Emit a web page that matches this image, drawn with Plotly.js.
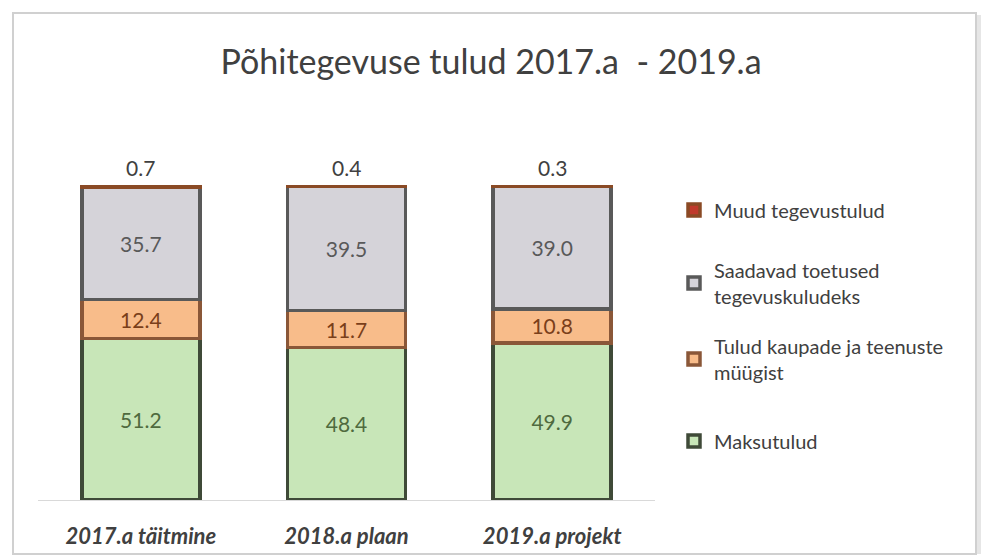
<!DOCTYPE html>
<html>
<head>
<meta charset="utf-8">
<script src="https://cdn.plot.ly/plotly-3.0.1.min.js"></script>
<style>
  html, body { margin: 0; padding: 0; background: #ffffff; }
  #chart { width: 982px; height: 557px; }
</style>
</head>
<body>
<div id="chart"></div>
<script>
// ---- data ----
const categories = ["2017.a täitmine", "2018.a plaan", "2019.a projekt"];
const maksutulud = [51.2, 48.4, 49.9];
const tuludKaupadest = [12.4, 11.7, 10.8];
const saadavadToetused = [35.7, 39.5, 39.0];
const muudTegevustulud = [0.7, 0.4, 0.3];
const seriesNames = [
  "Maksutulud",
  "Tulud kaupade ja teenuste<br>müügist",
  "Saadavad toetused<br>tegevuskuludeks",
  "Muud tegevustulud"
];
const titleText = "Põhitegevuse tulud 2017.a  - 2019.a";

// ---- layout helpers (pixel -> paper) ----
const W = 982, H = 557;
const plotL = 38, plotR = 655, plotT = 185, plotB = 500;
const px = x => (x - plotL) / (plotR - plotL);
const py = y => (plotB - y) / (plotB - plotT);

const FONT = "Lato, 'Open Sans', sans-serif";
const fmt = v => v.toFixed(1);

function barTrace(name, values, fill, line, textColor, legendId, textpos) {
  return {
    type: "bar",
    name: name,
    x: categories,
    y: values,
    text: values.map(fmt),
    textposition: textpos,
    insidetextanchor: "middle",
    textangle: 0,
    cliponaxis: false,
    textfont: { family: FONT, size: 21, color: textColor },
    insidetextfont: { family: FONT, size: 21, color: textColor },
    constraintext: "none",
    marker: { color: fill, line: { color: line, width: 3.5 } },
    legend: legendId,
    hoverinfo: "skip"
  };
}

const traces = [
  barTrace(seriesNames[0], maksutulud, "#c8e6b8", "#3f4a38", "#4f6a3e", "legend4", "inside"),
  barTrace(seriesNames[1], tuludKaupadest, "#f8bc8a", "#8a5738", "#7a3f1a", "legend3", "inside"),
  barTrace(seriesNames[2], saadavadToetused, "#d5d3d9", "#595959", "#595959", "legend2", "inside"),
  barTrace(seriesNames[3], muudTegevustulud, "#c0392b", "#8a4a25", "#404040", "legend", "none")
];

// labels for the thin top segment, placed above each stack
const stackTotal = i => Math.round((maksutulud[i] + tuludKaupadest[i] + saadavadToetused[i] + muudTegevustulud[i]) * 10) / 10;
const topAnnotations = categories.map((c, i) => ({
  x: c, y: stackTotal(i),
  xref: "x", yref: "y",
  text: fmt(muudTegevustulud[i]),
  showarrow: false, yanchor: "bottom", yshift: 3,
  font: { family: FONT, size: 21, color: "#404040" }
}));

function legendAt(yPx) {
  return {
    x: px(674), xanchor: "left",
    y: py(yPx), yanchor: "middle",
    bgcolor: "rgba(0,0,0,0)",
    font: { family: FONT, size: 20, color: "#404040" },
    itemwidth: 30
  };
}

const layout = {
  width: W, height: H,
  paper_bgcolor: "#ffffff",
  plot_bgcolor: "#ffffff",
  margin: { l: plotL, r: W - plotR, t: plotT, b: H - plotB, pad: 0 },
  barmode: "stack",
  bargap: 0.426,
  showlegend: true,
  title: {
    text: titleText,
    font: { family: FONT, size: 34, color: "#404040" },
    x: 0.5, xref: "container", xanchor: "center",
    y: 1 - 62 / H, yref: "container", yanchor: "middle"
  },
  xaxis: {
    type: "category",
    range: [-0.5, 2.5],
    showline: true, linecolor: "#d9d9d9", linewidth: 1,
    showgrid: false, zeroline: false,
    ticks: "",
    ticklabelstandoff: 17,
    tickfont: { family: FONT, size: 22, color: "#404040", weight: "bold", style: "italic" }
  },
  yaxis: {
    range: [0, 100.01],
    visible: false,
    showgrid: false, zeroline: false
  },
  legend: legendAt(210),
  legend2: legendAt(283),
  legend3: legendAt(359),
  legend4: legendAt(441),
  annotations: topAnnotations,
  shapes: [
    {
      type: "rect", xref: "paper", yref: "paper", layer: "below",
      x0: px(13), x1: px(976), y0: py(554), y1: py(13),
      line: { color: "#d0d0d0", width: 2 }, fillcolor: "rgba(0,0,0,0)"
    },
    {
      type: "line", xref: "paper", yref: "paper", layer: "below",
      x0: px(979), x1: px(979), y0: py(554), y1: py(15),
      line: { color: "#e6e6e6", width: 4 }
    }
  ]
};

Plotly.newPlot("chart", traces, layout, { displayModeBar: false, staticPlot: true });
</script>
</body>
</html>
